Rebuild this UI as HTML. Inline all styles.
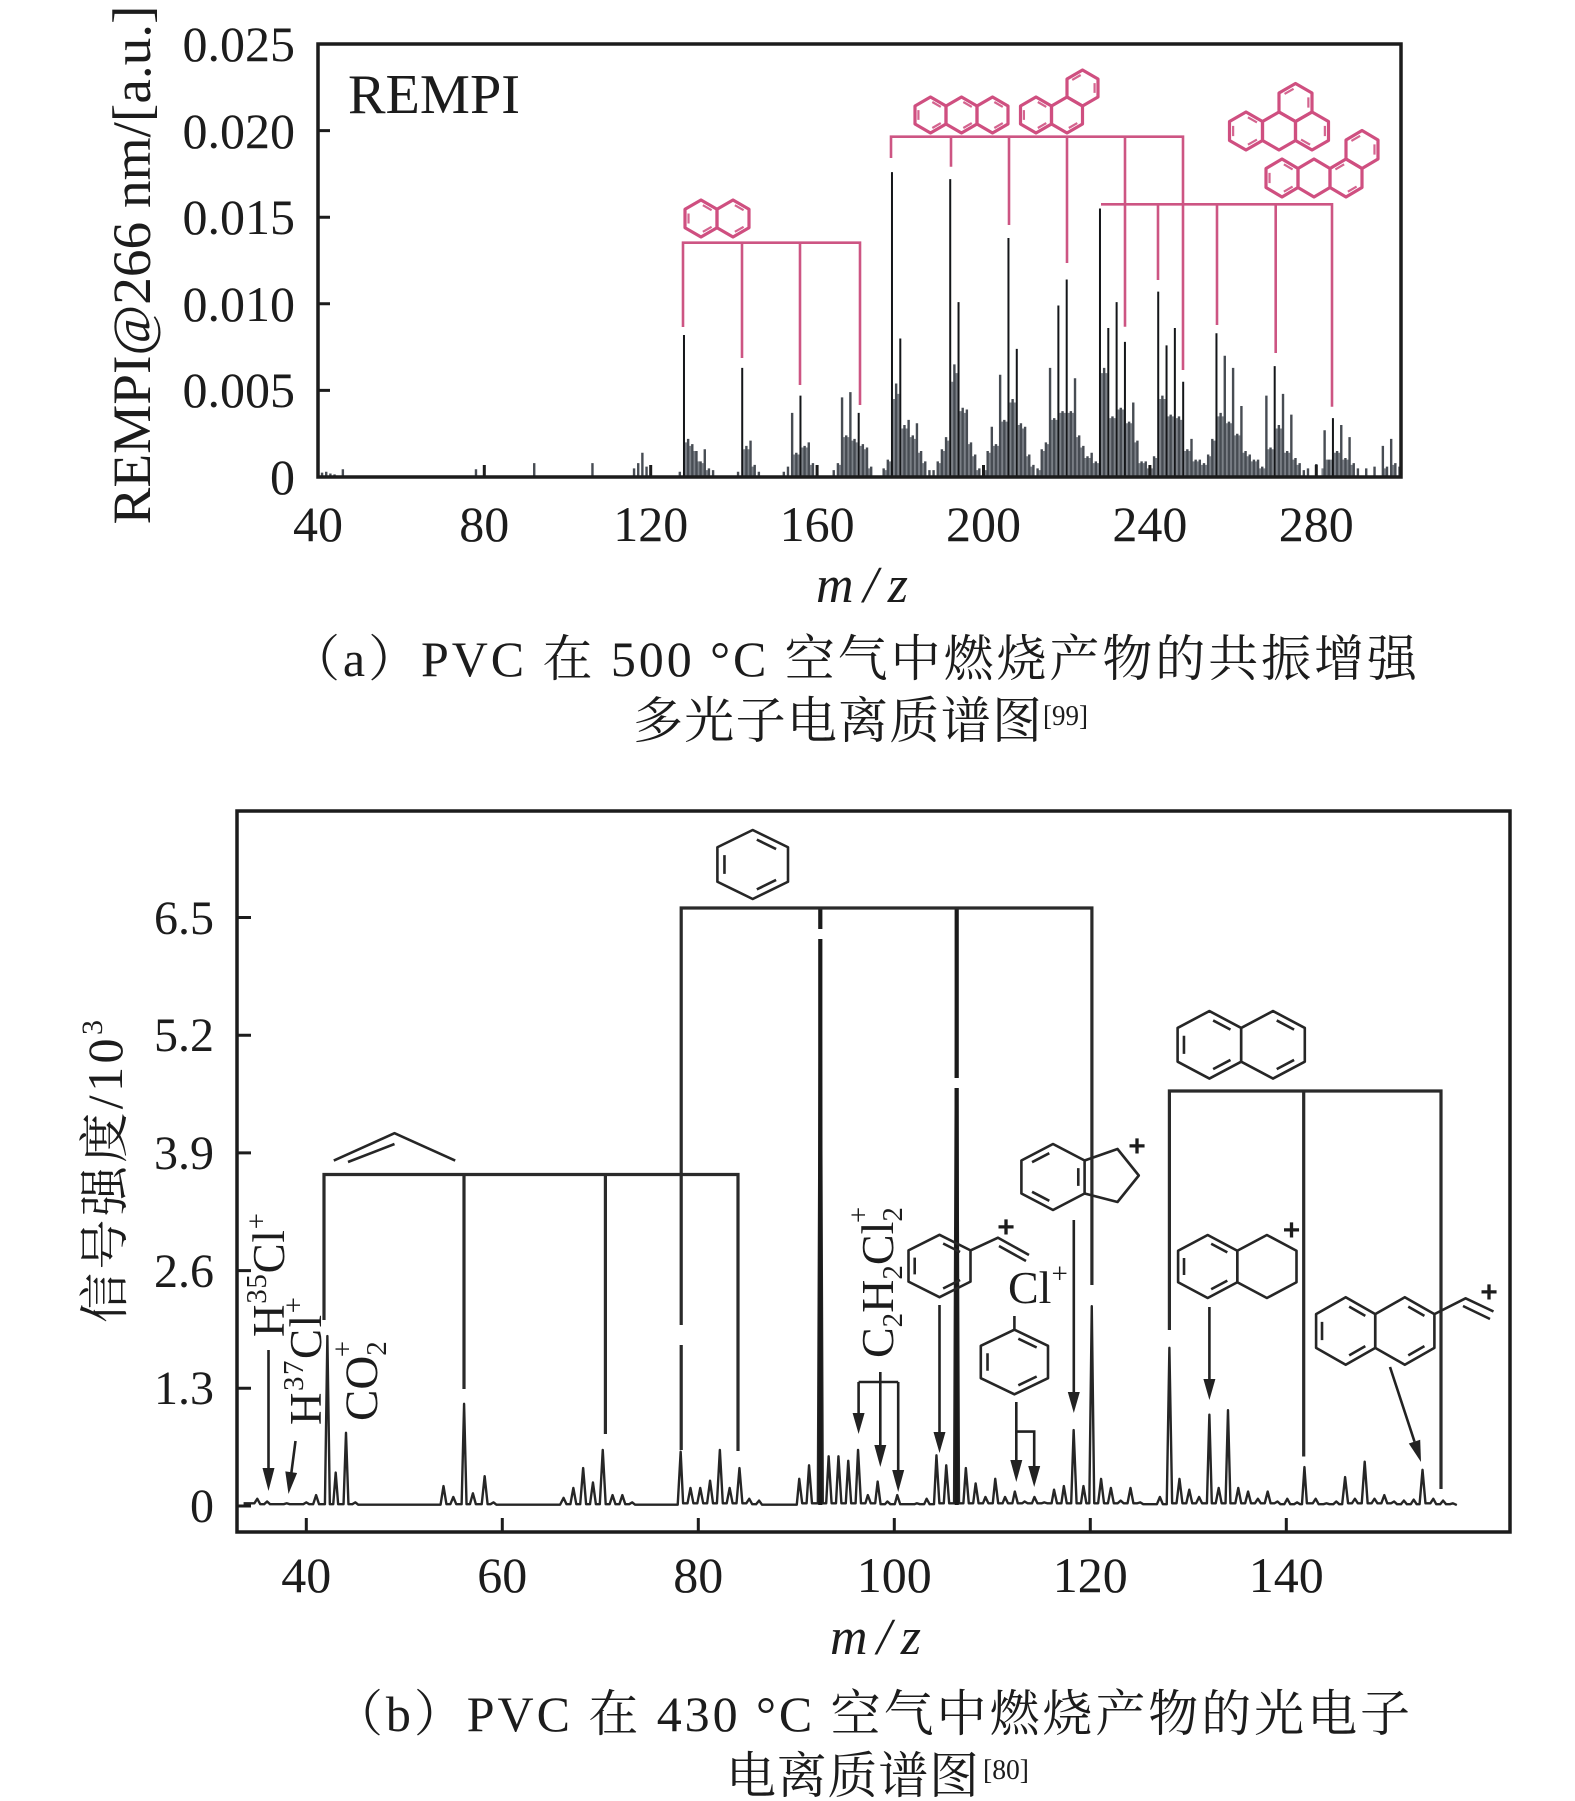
<!DOCTYPE html>
<html><head><meta charset="utf-8">
<style>
html,body{margin:0;padding:0;background:#fff;}
svg{display:block;}
.n{vector-effect:non-scaling-stroke;}
text{font-family:"Liberation Serif","Noto Serif CJK SC",serif;fill:#1c1c1c;}
</style></head>
<body>
<svg width="1575" height="1801" viewBox="0 0 1575 1801" xmlns="http://www.w3.org/2000/svg">
<rect width="1575" height="1801" fill="#fff"/>

<!-- ================= TOP CHART ================= -->
<g transform="matrix(4.16 0 0 -17.32 151.5 477)" fill="none">
<path class="n" stroke="#7b8087" stroke-width="2.2" d="M128.5 0V2M129.5 0V1.8M130.5 0V1.5M131.5 0V.9M132.5 0V.8M133.5 0V.4M142.5 0V1.6M143.5 0V1.6M144.5 0V.6M154.5 0V1.3M155.5 0V1.3M156.5 0V1.7M157.5 0V1.7M158.5 0V.7M165.5 0V.7M166.5 0V2.3M167.5 0V2.3M168.5 0V2.1M169.5 0V2M170.5 0V1.8M171.5 0V1.6M172.5 0V.5M176.5 0V.4M177.5 0V.9M178.5 0V4.5M179.5 0V4.8M180.5 0V2.8M181.5 0V2.8M182.5 0V2.3M183.5 0V2.2M184.5 0V1.4M185.5 0V.8M189.5 0V.8M190.5 0V1.5M191.5 0V2.1M192.5 0V5.5M193.5 0V6M194.5 0V3.8M195.5 0V3.7M196.5 0V1.9M197.5 0V1.2M198.5 0V.4M200.5 0V.4M201.5 0V1.4M202.5 0V1.8M203.5 0V1.8M204.5 0V3.2M205.5 0V3.2M206.5 0V4.3M207.5 0V4.3M208.5 0V3M209.5 0V2.8M210.5 0V1.2M211.5 0V.6M213.5 0V.4M214.5 0V1.5M215.5 0V1.9M216.5 0V3.3M217.5 0V3.3M218.5 0V3.7M219.5 0V3.7M220.5 0V3.7M221.5 0V3.7M222.5 0V2.3M223.5 0V1.7M224.5 0V1.1M225.5 0V1.1M226.5 0V.8M227.5 0V.8M228.5 0V6M229.5 0V6M230.5 0V3.4M231.5 0V3.4M232.5 0V3.9M233.5 0V3.9M234.5 0V3.1M235.5 0V3.1M236.5 0V2M237.5 0V.8M238.5 0V.8M239.5 0V.5M240.5 0V.5M241.5 0V1.1M242.5 0V4.5M243.5 0V4.5M244.5 0V3.5M245.5 0V3.5M246.5 0V3.4M247.5 0V3.3M248.5 0V1.5M249.5 0V1.5M250.5 0V.9M251.5 0V.9M252.5 0V.7M253.5 0V.7M254.5 0V1.2M255.5 0V2.1M256.5 0V3.5M257.5 0V3.5M258.5 0V3.1M259.5 0V3.1M260.5 0V2.4M261.5 0V2.4M262.5 0V1.4M263.5 0V1.2M264.5 0V.9M265.5 0V.9M266.5 0V.5M267.5 0V.5M268.5 0V1.6M269.5 0V1.6M270.5 0V2.8M271.5 0V2.8M272.5 0V1.4M273.5 0V1.4M274.5 0V1M275.5 0V.7M281.5 0V.5M282.5 0V1M283.5 0V1M284.5 0V1.4M285.5 0V1.4M286.5 0V1M287.5 0V1M288.5 0V.7M296.5 0V.5M298.5 0V.7"/>
<path class="n" stroke="#474c53" stroke-width="2.4" d="M41 0V.25M42 0V.3M43 0V.2M44 0V.15M46 0V.45M78 0V.45M92 0V.8M106 0V.8M116 0V.5M117 0V.8M118 0V1.4M119 0V.6M120 0V.3M127 0V.3M129 0V2.2M130 0V1.9M131 0V1.5M132 0V.9M133 0V1.6M134 0V.5M135 0V.4M141 0V.3M143 0V1.8M144 0V2.1M145 0V.7M146 0V.3M152 0V.3M153 0V.6M154 0V3.7M155 0V1.4M157 0V1.8M158 0V2M159 0V.8M160 0V.6M164 0V.4M165 0V.8M166 0V4.6M167 0V2.4M168 0V4.9M169 0V2.2M171 0V1.9M172 0V1.7M173 0V.6M176 0V.5M177 0V1M179 0V5.4M181 0V3M182 0V3.3M183 0V2.4M184 0V3.1M185 0V1.5M186 0V.9M187 0V.4M188 0V.4M189 0V.9M190 0V1.6M191 0V2.3M193 0V6.5M195 0V4M196 0V3.9M197 0V2M198 0V1.3M199 0V.5M200 0V.5M201 0V1.5M202 0V2.9M203 0V1.9M204 0V5.9M205 0V3.3M207 0V4.5M209 0V3.1M210 0V2.9M211 0V1.3M212 0V.7M213 0V.5M214 0V1.6M215 0V2M216 0V6.3M217 0V3.4M219 0V3.8M221 0V3.8M222 0V5.7M223 0V2.4M224 0V1.8M225 0V1.2M226 0V1.4M227 0V.9M229 0V6.3M231 0V3.5M233 0V4M235 0V3.2M236 0V4.3M237 0V2.1M238 0V.9M239 0V.9M240 0V.6M241 0V1.2M243 0V4.7M245 0V3.6M247 0V3.5M249 0V1.6M250 0V2.2M251 0V1M252 0V1M253 0V.8M254 0V1.3M255 0V2.2M257 0V3.7M258 0V7M259 0V3.2M260 0V6.3M261 0V2.5M262 0V4.1M263 0V1.5M264 0V1.3M265 0V1M266 0V1M267 0V.6M268 0V4.7M269 0V1.7M271 0V3M272 0V4.8M273 0V1.5M274 0V3.6M275 0V1.1M276 0V.8M277 0V.4M278 0V.5M280 0V.75M282 0V2.7M283 0V1M285 0V1.5M286 0V3M287 0V1.1M288 0V2.3M289 0V.8M290 0V.5M292 0V.5M294 0V.6M296 0V1.8M297 0V.6M298 0V2.2M299 0V.8M300 0V.6"/>
<path class="n" stroke="#141619" stroke-width="2" d="M128 0V8.2M142 0V6.3M156 0V4.7M170 0V3.7M178 0V17.6M192 0V17.2M206 0V13.8M220 0V11.4M234 0V7.8M248 0V5.5M228 0V15.5M242 0V10.7M256 0V8.3M270 0V6.4M284 0V3.4M180 0V8M194 0V10.1M208 0V7.4M218 0V9.9M230 0V8.6M232 0V10.1M246 0V8.6M244 0V7.6"/>
</g>

<g fill="none" stroke="#cd5583" stroke-width="2.6">
<path d="M683 327V242.7H860V405M742 242.7V358M800 242.7V385"/>
<path d="M891 158V136.7H1183V370M951 136.7V166.7M1009 136.7V225M1067 136.7V263M1125 136.7V326.7"/>
<path d="M1101 204.3H1332V406.7M1158 204.3V280M1217 204.3V325M1275.7 204.3V353"/>
</g>

<g fill="none" stroke="#cf4f80" stroke-width="3.2" stroke-linejoin="round">
<polygon class="n" transform="translate(701 218.5) scale(16 18.5)" points="0,-1 1,-.5 1,.5 0,1 -1,.5 -1,-.5"/>
<polygon class="n" transform="translate(733 218.5) scale(16 18.5)" points="0,-1 1,-.5 1,.5 0,1 -1,.5 -1,-.5"/>
<polygon class="n" transform="translate(930.5 115) scale(15.5 18)" points="0,-1 1,-.5 1,.5 0,1 -1,.5 -1,-.5"/>
<polygon class="n" transform="translate(961.5 115) scale(15.5 18)" points="0,-1 1,-.5 1,.5 0,1 -1,.5 -1,-.5"/>
<polygon class="n" transform="translate(992.5 115) scale(15.5 18)" points="0,-1 1,-.5 1,.5 0,1 -1,.5 -1,-.5"/>
<polygon class="n" transform="translate(1036 115) scale(15.5 18)" points="0,-1 1,-.5 1,.5 0,1 -1,.5 -1,-.5"/>
<polygon class="n" transform="translate(1067 115) scale(15.5 18)" points="0,-1 1,-.5 1,.5 0,1 -1,.5 -1,-.5"/>
<polygon class="n" transform="translate(1082.5 88) scale(15.5 18)" points="0,-1 1,-.5 1,.5 0,1 -1,.5 -1,-.5"/>
<polygon class="n" transform="translate(1246 131) scale(16.5 19)" points="0,-1 1,-.5 1,.5 0,1 -1,.5 -1,-.5"/>
<polygon class="n" transform="translate(1279 131) scale(16.5 19)" points="0,-1 1,-.5 1,.5 0,1 -1,.5 -1,-.5"/>
<polygon class="n" transform="translate(1312 131) scale(16.5 19)" points="0,-1 1,-.5 1,.5 0,1 -1,.5 -1,-.5"/>
<polygon class="n" transform="translate(1295.5 102.5) scale(16.5 19)" points="0,-1 1,-.5 1,.5 0,1 -1,.5 -1,-.5"/>
<polygon class="n" transform="translate(1282 178) scale(16 19)" points="0,-1 1,-.5 1,.5 0,1 -1,.5 -1,-.5"/>
<polygon class="n" transform="translate(1314 178) scale(16 19)" points="0,-1 1,-.5 1,.5 0,1 -1,.5 -1,-.5"/>
<polygon class="n" transform="translate(1346 178) scale(16 19)" points="0,-1 1,-.5 1,.5 0,1 -1,.5 -1,-.5"/>
<polygon class="n" transform="translate(1362 149.5) scale(16 19)" points="0,-1 1,-.5 1,.5 0,1 -1,.5 -1,-.5"/>
</g>
<g fill="none" stroke="#d4648f" stroke-width="2.2">
<path class="n" transform="translate(701 218.5) scale(16 18.5)" d="M-.78 .27V-.27M.117-.7215L.663-.4485M.663.4485L.117.7215"/>
<path class="n" transform="translate(733 218.5) scale(16 18.5)" d="M.117-.7215L.663-.4485M.663.4485L.117.7215"/>
<path class="n" transform="translate(930.5 115) scale(15.5 18)" d="M-.78 .27V-.27M.117-.7215L.663-.4485M.663.4485L.117.7215"/>
<path class="n" transform="translate(961.5 115) scale(15.5 18)" d="M.117-.7215L.663-.4485M.663.4485L.117.7215"/>
<path class="n" transform="translate(992.5 115) scale(15.5 18)" d="M.117-.7215L.663-.4485M.663.4485L.117.7215"/>
<path class="n" transform="translate(1036 115) scale(15.5 18)" d="M-.78 .27V-.27M.117-.7215L.663-.4485M.663.4485L.117.7215"/>
<path class="n" transform="translate(1067 115) scale(15.5 18)" d="M.663.4485L.117.7215"/>
<path class="n" transform="translate(1082.5 88) scale(15.5 18)" d="M.78-.27V.27M-.117-.7215L-.663-.4485"/>
<path class="n" transform="translate(1246 131) scale(16.5 19)" d="M-.78 .27V-.27M.117-.7215L.663-.4485M.663.4485L.117.7215"/>
<path class="n" transform="translate(1312 131) scale(16.5 19)" d="M.78-.27V.27M-.117.7215L-.663.4485"/>
<path class="n" transform="translate(1295.5 102.5) scale(16.5 19)" d="M-.117-.7215L-.663-.4485M.78-.27V.27"/>
<path class="n" transform="translate(1282 178) scale(16 19)" d="M-.78 .27V-.27M.117-.7215L.663-.4485M.663.4485L.117.7215"/>
<path class="n" transform="translate(1346 178) scale(16 19)" d="M.663.4485L.117.7215M-.117-.7215L-.663-.4485"/>
<path class="n" transform="translate(1362 149.5) scale(16 19)" d="M.78-.27V.27M-.117-.7215L-.663-.4485"/>
</g>

<rect x="318" y="44" width="1083" height="433" fill="none" stroke="#1c1c1c" stroke-width="3.5"/>
<path d="M318 130.6h12M318 217.2h12M318 303.8h12M318 390.4h12M484.3 477v-12M650.7 477v-12M817.1 477v-12M983.5 477v-12M1149.9 477v-12M1316.3 477v-12" stroke="#1c1c1c" stroke-width="3" fill="none"/>

<text x="348" y="113" font-size="56" textLength="172" lengthAdjust="spacingAndGlyphs">REMPI</text>

<g font-size="50" text-anchor="end">
<text x="295" y="61">0.025</text>
<text x="295" y="148">0.020</text>
<text x="295" y="234">0.015</text>
<text x="295" y="321">0.010</text>
<text x="295" y="407">0.005</text>
<text x="295" y="494">0</text>
</g>
<g font-size="50" text-anchor="middle">
<text x="318" y="541">40</text>
<text x="484.3" y="541">80</text>
<text x="650.7" y="541">120</text>
<text x="817.1" y="541">160</text>
<text x="983.5" y="541">200</text>
<text x="1149.9" y="541">240</text>
<text x="1316.3" y="541">280</text>
</g>
<text transform="translate(150 265) rotate(-90)" text-anchor="middle" font-size="54" textLength="519" lengthAdjust="spacingAndGlyphs">REMPI@266 nm/[a.u.]</text>
<text x="816" y="602" font-size="52" font-style="italic" font-weight="normal" textLength="92">m/z</text>

<text x="290" y="676" font-size="50" textLength="1127">（a）PVC 在 500 °C 空气中燃烧产物的共振增强</text>
<text x="633" y="738" font-size="50" textLength="409">多光子电离质谱图</text>
<text x="1043" y="725" font-size="28" textLength="45" lengthAdjust="spacingAndGlyphs">[99]</text>

<!-- ================= BOTTOM CHART ================= -->
<path class="n" transform="matrix(9.8 0 0 -90.4 -85.7 1506)" fill="none" stroke="#262626" stroke-width="2.4" stroke-linejoin="round" d="M33.6 .03L34.7 .03L35 .08L35.3 .02L35.7 .02L36 .05L36.3 .02L37.7 .02L38 .03L38.3 .02L39.7 .02L40 .04L40.3 .02L40.7 .02L41 .12L41.3 .02L41.9 .02L42.15 1.88L42.4 .02L42.75 .02L43 .37L43.25 .02L43.8 .02L44.05 .81L44.3 .02L44.7 .02L45 .04L45.3 .015L53.7 .015L54 .22L54.3 .02L54.7 .02L55 .1L55.3 .02L55.85 .02L56.1 1.13L56.35 .02L56.7 .02L57 .14L57.3 .02L57.9 .02L58.2 .33L58.5 .02L58.8 .02L59.1 .04L59.4 .015L65.9 .015L66.25 .09L66.55 .02L66.95 .02L67.25 .2L67.55 .02L67.95 .02L68.25 .42L68.55 .02L68.95 .02L69.25 .26L69.55 .02L69.95 .02L70.25 .62L70.55 .02L70.95 .02L71.25 .12L71.55 .02L71.95 .02L72.25 .12L72.55 .02L72.95 .02L73.25 .04L73.55 .015L77.9 .015L78.2 .6L78.45 .03L78.9 .03L79.2 .2L79.5 .03L79.9 .03L80.2 .2L80.5 .03L80.9 .03L81.2 .28L81.5 .03L81.9 .03L82.2 .62L82.5 .03L82.9 .03L83.2 .2L83.5 .03L83.9 .03L84.2 .42L84.5 .03L84.9 .03L85.2 .08L85.5 .02L85.9 .02L86.2 .06L86.5 .015L90.05 .015L90.3 .3L90.6 .03L91.05 .03L91.3 .45L91.6 .03L92.2 .03L92.45 6.6L92.7 .03L93.05 .03L93.3 .55L93.6 .03L94.05 .03L94.3 .55L94.6 .03L95.05 .03L95.3 .5L95.6 .03L96.05 .03L96.3 .62L96.6 .03L97.05 .03L97.3 .12L97.6 .03L98.05 .03L98.3 .27L98.6 .02L99.05 .02L99.3 .05L99.6 .02L100.05 .02L100.3 .12L100.6 .02L102.05 .02L102.3 .03L102.6 .02L103.05 .02L103.3 .08L103.6 .02L104.05 .02L104.3 .56L104.6 .03L105.05 .03L105.3 .45L105.6 .03L106.1 .03L106.35 6.6L106.6 .03L107.05 .03L107.3 .42L107.6 .03L108.05 .03L108.3 .25L108.6 .03L109.05 .03L109.3 .1L109.6 .03L110.05 .03L110.3 .3L110.6 .03L111.05 .03L111.3 .1L111.6 .03L112.05 .03L112.3 .16L112.6 .03L113.05 .03L113.3 .05L113.6 .03L114.05 .03L114.3 .1L114.6 .03L115.05 .03L115.3 .04L115.6 .03L116.05 .03L116.3 .18L116.6 .03L117.05 .03L117.3 .22L117.6 .03L118.05 .03L118.3 .84L118.6 .03L119.05 .03L119.3 .22L119.6 .03L119.9 .03L120.15 2.21L120.4 .03L120.8 .03L121.1 .3L121.4 .03L121.8 .03L122.1 .2L122.4 .03L122.8 .03L123.1 .06L123.4 .03L123.8 .03L124.1 .2L124.4 .03L124.8 .03L125.1 .04L125.4 .02L126.8 .02L127.1 .1L127.4 .02L127.8 .02L128.07 1.75L128.35 .03L128.8 .03L129.1 .3L129.4 .03L129.8 .03L130.1 .18L130.4 .03L130.8 .03L131.1 .1L131.4 .03L131.9 .03L132.15 1.01L132.4 .03L132.8 .03L133.1 .2L133.4 .03L133.8 .03L134.05 1.06L134.3 .03L134.8 .03L135.1 .2L135.4 .03L135.8 .03L136.1 .16L136.4 .03L136.8 .03L137.1 .08L137.4 .03L137.8 .03L138.1 .16L138.4 .03L138.8 .03L139.1 .05L139.4 .02L139.8 .02L140.1 .08L140.4 .02L140.8 .02L141.1 .04L141.4 .02L141.6 .02L141.85 .43L142.1 .03L142.7 .03L143 .08L143.3 .02L143.8 .02L144.1 .03L144.4 .02L144.8 .02L145.1 .05L145.4 .02L145.7 .02L146 .32L146.3 .03L146.7 .03L147 .08L147.3 .03L147.7 .03L148 .49L148.3 .03L148.7 .03L149 .08L149.3 .03L149.7 .03L150 .12L150.3 .03L150.7 .03L151 .05L151.3 .02L151.7 .02L152 .06L152.3 .02L152.7 .02L153 .07L153.3 .02L153.6 .02L153.9 .4L154.2 .03L154.7 .03L155 .08L155.3 .02L155.7 .02L156 .06L156.3 .02L156.7 .02L157 .03L157.4 .01"/>

<path d="M820.3 908V1505M956.7 908V1505" stroke="#1a1a1a" stroke-width="4.2" fill="none"/>
<rect x="815" y="929" width="11" height="10" fill="#fff"/>
<rect x="951" y="1078" width="11" height="10" fill="#fff"/>

<g fill="none" stroke="#2a2a2a" stroke-width="3.2">
<path d="M324 1320V1174.5H738V1451M464 1174.5V1389M605.4 1174.5V1434"/>
<path d="M681.2 1325V908H1091.9V1285M681.2 1345V1450"/>
<path d="M1169.4 1330V1091H1441V1489M1303.7 1091V1456.5"/>
</g>

<g stroke="#222" stroke-width="2.6" fill="none">
<path d="M268.5 1350V1472M295.5 1441L291.2 1474M858.6 1382H898.2M858.6 1382V1416M880.3 1372V1448M898.2 1382V1473M939.5 1305V1436M1016.3 1402V1465M1016.3 1431.6H1034.2V1470M1073.8 1220V1396M1209.4 1307V1383M1390 1367L1414.5 1441.6"/>
</g>
<g fill="#222">
<polygon points="262.5,1468 274.5,1468 268.5,1491"/>
<polygon points="297.1,1473 285.3,1471.4 288.5,1494"/>
<polygon points="852.6,1413 864.6,1413 858.6,1434"/>
<polygon points="874.3,1445 886.3,1445 880.3,1467"/>
<polygon points="892.2,1470 904.2,1470 898.2,1492"/>
<polygon points="933.5,1432 945.5,1432 939.5,1453"/>
<polygon points="1010.3,1460 1022.3,1460 1016.3,1482"/>
<polygon points="1028.2,1466 1040.2,1466 1034.2,1487"/>
<polygon points="1067.8,1392 1079.8,1392 1073.8,1413"/>
<polygon points="1203.4,1379 1215.4,1379 1209.4,1400"/>
<polygon points="1420.2,1439.7 1408.8,1443.5 1421,1462"/>
</g>

<g fill="none" stroke="#262626" stroke-width="2.6" stroke-linejoin="round">
<path d="M333.8 1160.6L394.5 1133.2L455.2 1160.6M348 1162L394.5 1144"/>
<polygon class="n" transform="translate(752.7 864.5) scale(35.3 34.5)" points="0,-1 1,-.5 1,.5 0,1 -1,.5 -1,-.5"/>
<path class="n" transform="translate(752.7 864.5) scale(35.3 34.5)" d="M-.8 .27V-.27M.117-.7215L.663-.4485M.663.4485L.117.7215"/>
<polygon class="n" transform="translate(1209.4 1044.8) scale(31.8 33.75)" points="0,-1 1,-.5 1,.5 0,1 -1,.5 -1,-.5"/>
<polygon class="n" transform="translate(1273 1044.8) scale(31.8 33.75)" points="0,-1 1,-.5 1,.5 0,1 -1,.5 -1,-.5"/>
<path class="n" transform="translate(1209.4 1044.8) scale(31.8 33.75)" d="M-.8 .27V-.27M.117-.7215L.663-.4485M.663.4485L.117.7215"/>
<path class="n" transform="translate(1273 1044.8) scale(31.8 33.75)" d="M.117-.7215L.663-.4485M.663.4485L.117.7215"/>
<polygon class="n" transform="translate(1053 1177) scale(31.6 33)" points="0,-1 1,-.5 1,.5 0,1 -1,.5 -1,-.5"/>
<path class="n" transform="translate(1053 1177) scale(31.6 33)" d="M.8-.27V.27M-.117.7215L-.663.4485M-.663-.4485L-.117-.7215"/>
<path d="M1084.6 1160.5L1117.5 1149L1138.8 1175.5L1117.5 1202L1084.6 1193.5"/>
<polygon class="n" transform="translate(1207.7 1266.5) scale(29.6 31.5)" points="0,-1 1,-.5 1,.5 0,1 -1,.5 -1,-.5"/>
<polygon class="n" transform="translate(1266.9 1266.5) scale(29.6 31.5)" points="0,-1 1,-.5 1,.5 0,1 -1,.5 -1,-.5"/>
<path class="n" transform="translate(1207.7 1266.5) scale(29.6 31.5)" d="M-.8 .27V-.27M.117-.7215L.663-.4485M.663.4485L.117.7215"/>
<polygon class="n" transform="translate(1345.7 1331) scale(29.6 33.75)" points="0,-1 1,-.5 1,.5 0,1 -1,.5 -1,-.5"/>
<polygon class="n" transform="translate(1404.8 1331) scale(29.6 33.75)" points="0,-1 1,-.5 1,.5 0,1 -1,.5 -1,-.5"/>
<path class="n" transform="translate(1345.7 1331) scale(29.6 33.75)" d="M-.8 .27V-.27M.117-.7215L.663-.4485M.663.4485L.117.7215"/>
<path class="n" transform="translate(1404.8 1331) scale(29.6 33.75)" d="M.117-.7215L.663-.4485M.663.4485L.117.7215"/>
<path d="M1434.4 1314.1L1465.6 1298.3L1493.5 1311.5M1463 1306L1490 1319"/>
<polygon class="n" transform="translate(939.5 1266) scale(31 31.2)" points="0,-1 1,-.5 1,.5 0,1 -1,.5 -1,-.5"/>
<path class="n" transform="translate(939.5 1266) scale(31 31.2)" d="M-.8 .27V-.27M.117-.7215L.663-.4485M.663.4485L.117.7215"/>
<path d="M970.5 1250.4L998 1237.7L1029 1255M999 1246L1026 1261"/>
<polygon class="n" transform="translate(1014.4 1362) scale(33.6 32.3)" points="0,-1 1,-.5 1,.5 0,1 -1,.5 -1,-.5"/>
<path class="n" transform="translate(1014.4 1362) scale(33.6 32.3)" d="M-.8 .27V-.27M.117-.7215L.663-.4485M.663.4485L.117.7215"/>
<path d="M1014.4 1316V1329.7"/>
</g>
<g font-weight="bold" font-size="30" text-anchor="middle">
<text x="1006" y="1237" style="font-family:'Liberation Sans',sans-serif">+</text>
<text x="1137" y="1156" style="font-family:'Liberation Sans',sans-serif">+</text>
<text x="1291.5" y="1240" style="font-family:'Liberation Sans',sans-serif">+</text>
<text x="1489" y="1302" style="font-family:'Liberation Sans',sans-serif">+</text>
</g>

<text transform="translate(284 1337) rotate(-90)" font-size="45" textLength="124">H<tspan font-size="29" dy="-18">35</tspan><tspan dy="18">Cl</tspan><tspan font-size="29" dy="-18">+</tspan></text>
<text transform="translate(321 1425) rotate(-90)" font-size="45" textLength="128">H<tspan font-size="29" dy="-18">37</tspan><tspan dy="18">Cl</tspan><tspan font-size="29" dy="-18">+</tspan></text>
<text transform="translate(377 1421) rotate(-90)" font-size="47">CO<tspan font-size="29" dy="9">2</tspan><tspan font-size="29" dx="-16" dy="-34">+</tspan></text>
<text transform="translate(893 1358) rotate(-90)" font-size="46">C<tspan font-size="29" dy="9">2</tspan><tspan dy="-9">H</tspan><tspan font-size="29" dy="9">2</tspan><tspan dy="-9">Cl</tspan><tspan font-size="29" dy="9">2</tspan><tspan font-size="29" dx="-16" dy="-34">+</tspan></text>
<text x="1008" y="1303" font-size="46">Cl<tspan font-size="29" dy="-20">+</tspan></text>

<rect x="237" y="811" width="1273" height="721" fill="none" stroke="#1c1c1c" stroke-width="3.5"/>
<path d="M237 917.5h14M237 1035.2h14M237 1152.9h14M237 1270.6h14M237 1388.3h14M237 1506h14M306.3 1532v-14M502.3 1532v-14M698.3 1532v-14M894.3 1532v-14M1090.3 1532v-14M1286.3 1532v-14" stroke="#1c1c1c" stroke-width="3" fill="none"/>

<g font-size="48" text-anchor="end">
<text x="214" y="934">6.5</text>
<text x="214" y="1051">5.2</text>
<text x="214" y="1169">3.9</text>
<text x="214" y="1287">2.6</text>
<text x="214" y="1404">1.3</text>
<text x="214" y="1522">0</text>
</g>
<g font-size="50" text-anchor="middle">
<text x="306.3" y="1592">40</text>
<text x="502.3" y="1592">60</text>
<text x="698.3" y="1592">80</text>
<text x="894.3" y="1592">100</text>
<text x="1090.3" y="1592">120</text>
<text x="1286.3" y="1592">140</text>
</g>
<text transform="translate(122 1171.5) rotate(-90)" text-anchor="middle" font-size="50" textLength="303">信号强度/10<tspan font-size="30" dy="-20">3</tspan></text>
<text x="830" y="1654" font-size="52" font-style="italic" font-weight="normal" textLength="91">m/z</text>

<text x="333" y="1731" font-size="50" textLength="1077">（b）PVC 在 430 °C 空气中燃烧产物的光电子</text>
<text x="726" y="1793" font-size="50" textLength="253">电离质谱图</text>
<text x="983" y="1779" font-size="28" textLength="46" lengthAdjust="spacingAndGlyphs">[80]</text>
</svg>
</body></html>
